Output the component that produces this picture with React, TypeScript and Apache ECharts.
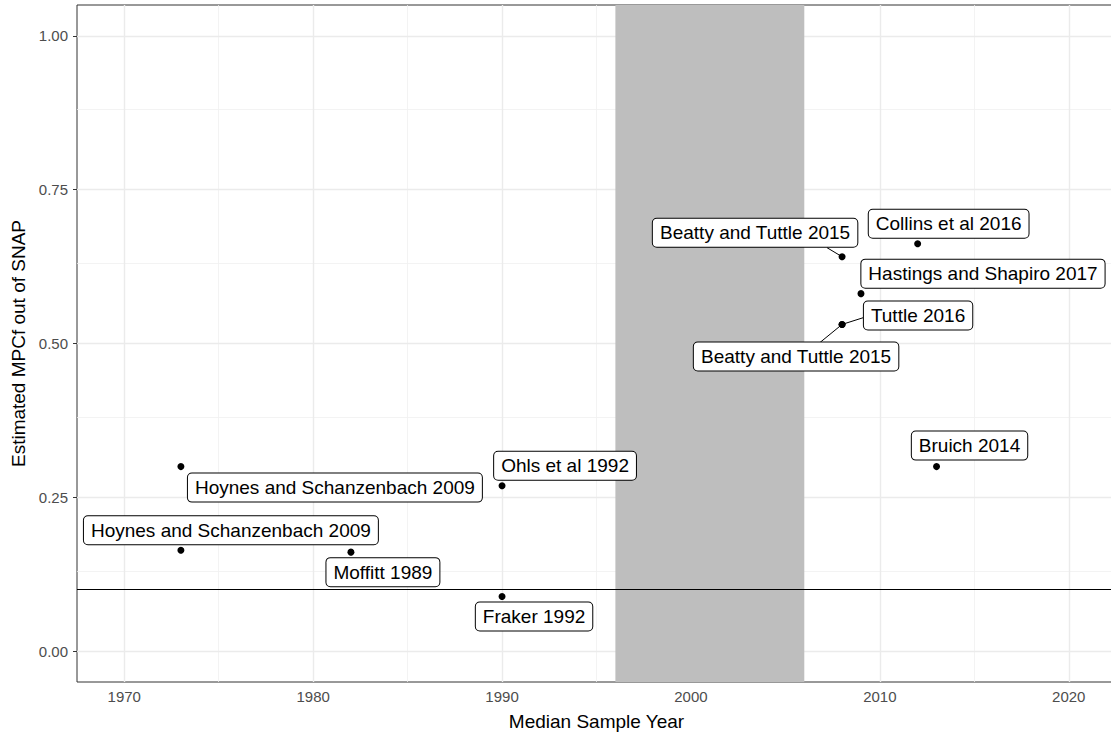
import React, { useEffect, useRef } from "react";
import * as echarts from "echarts";

const studies = [
  "Hoynes and Schanzenbach 2009",
  "Hoynes and Schanzenbach 2009",
  "Moffitt 1989",
  "Ohls et al 1992",
  "Fraker 1992",
  "Beatty and Tuttle 2015",
  "Collins et al 2016",
  "Hastings and Shapiro 2017",
  "Tuttle 2016",
  "Beatty and Tuttle 2015",
  "Bruich 2014",
];
const sampleYears = [1973, 1973, 1982, 1990, 1990, 2008, 2012, 2009, 2008, 2008, 2013];
const mpcf = [0.3, 0.164, 0.161, 0.269, 0.089, 0.641, 0.662, 0.581, 0.531, 0.531, 0.3];

const yTicks = [0, 0.25, 0.5, 0.75, 1.0];
const yMinor = [0.125, 0.375, 0.625, 0.875];
const xTicks = [1970, 1980, 1990, 2000, 2010, 2020];
const xMinor = [1975, 1985, 1995, 2005, 2015];
const shadeStart = 1996;
const shadeEnd = 2006;
const refLine = 0.1;

// label placement (pixel offsets of label centre from its point, ggrepel-like)
const labelOffsets: [number, number][] = [
  [154, 21],
  [50, -20],
  [32, 20],
  [63, -20],
  [32, 20],
  [-87, -24],
  [31, -20],
  [122, -20],
  [76, -9],
  [-46, 32],
  [33, -21],
];
// connector segments (pixel end offset from point), null = no connector
const connectors: ([number, number] | null)[] = [
  null, null, null, null, null,
  [-15, -9],
  null, null,
  [22, -7],
  [-22, 18],
  null,
];

const FONT = "'Liberation Sans', Arial, Helvetica, sans-serif";

export default function App() {
  const ref = useRef<HTMLDivElement>(null);
  useEffect(() => {
    if (!ref.current) return;
    const chart = echarts.init(ref.current, null, { renderer: "svg" });
    const majorStyle = { color: "#EBEBEB", width: 1.4, type: "solid" as const };
    const minorStyle = { color: "#F0F0F0", width: 0.8, type: "solid" as const };
    const points = studies.map((name, i) => ({
      name,
      value: [sampleYears[i], mpcf[i]],
      label: { offset: labelOffsets[i] },
    }));
    const connectorData = studies
      .map((_, i) => i)
      .filter((i) => connectors[i])
      .map((i) => [sampleYears[i], mpcf[i], connectors[i]![0], connectors[i]![1]]);
    chart.setOption({
      animation: false,
      textStyle: { fontFamily: FONT },
      grid: {
        left: 77,
        right: 0,
        top: 5,
        bottom: 56,
        show: true,
        borderColor: "#333333",
        borderWidth: 1,
        backgroundColor: "transparent",
      },
      xAxis: {
        type: "value",
        min: 1967.5,
        max: 2022.5,
        name: "Median Sample Year",
        nameLocation: "middle",
        nameGap: 30,
        nameTextStyle: { fontSize: 19, color: "#000", fontFamily: FONT },
        axisLine: { show: false },
        axisTick: { show: true, customValues: xTicks, length: 4, lineStyle: { color: "#333" } },
        axisLabel: {
          customValues: xTicks,
          color: "#4D4D4D",
          fontSize: 15,
          margin: 7,
          fontFamily: FONT,
          formatter: (v: number) => String(v),
        },
        splitLine: { show: false },
      },
      yAxis: {
        type: "value",
        min: -0.05,
        max: 1.05,
        name: "Estimated MPCf out of SNAP",
        nameLocation: "middle",
        nameGap: 46,
        nameTextStyle: { fontSize: 19, color: "#000", fontFamily: FONT },
        axisLine: { show: false },
        axisTick: { show: true, customValues: yTicks, length: 4, lineStyle: { color: "#333" } },
        axisLabel: {
          customValues: yTicks,
          color: "#4D4D4D",
          fontSize: 15,
          margin: 9,
          fontFamily: FONT,
          formatter: (v: number) => v.toFixed(2),
        },
        splitLine: { show: false },
      },
      series: [
        {
          type: "line",
          data: [],
          silent: true,
          markLine: {
            silent: true,
            z: 1,
            symbol: "none",
            label: { show: false },
            data: [
              ...yMinor.map((v) => ({ yAxis: v, lineStyle: minorStyle })),
              ...xMinor.map((v) => ({ xAxis: v, lineStyle: minorStyle })),
              ...yTicks.map((v) => ({ yAxis: v, lineStyle: majorStyle })),
              ...xTicks.map((v) => ({ xAxis: v, lineStyle: majorStyle })),
            ],
          },
        },
        {
          type: "line",
          data: [],
          silent: true,
          markArea: {
            silent: true,
            z: 3,
            itemStyle: { color: "#BEBEBE", opacity: 1 },
            data: [[{ xAxis: shadeStart }, { xAxis: shadeEnd }]],
          },
        },
        {
          type: "line",
          data: [],
          silent: true,
          markLine: {
            silent: true,
            z: 4,
            symbol: "none",
            label: { show: false },
            lineStyle: { color: "#000", width: 1.2, type: "solid" },
            data: [{ yAxis: refLine }],
          },
        },
        {
          type: "custom",
          z: 5,
          silent: true,
          data: connectorData,
          renderItem: (_params: any, api: any) => {
            const p = api.coord([api.value(0), api.value(1)]);
            return {
              type: "line",
              shape: { x1: p[0], y1: p[1], x2: p[0] + api.value(2), y2: p[1] + api.value(3) },
              style: { stroke: "#000", lineWidth: 1 },
            };
          },
        },
        {
          type: "scatter",
          z: 6,
          symbol: "circle",
          symbolSize: 7,
          itemStyle: { color: "#000", opacity: 1 },
          data: points,
          label: {
            show: true,
            position: "inside",
            formatter: (p: any) => p.name,
            color: "#000",
            fontSize: 19,
            fontFamily: FONT,
            lineHeight: 21,
            backgroundColor: "#fff",
            borderColor: "#000",
            borderWidth: 1,
            borderRadius: 4,
            padding: [4, 7, 3, 7],
          },
        },
      ],
    });
    return () => chart.dispose();
  }, []);
  return (
    <div
      ref={ref}
      style={{ position: "fixed", left: 0, top: 0, width: 1116, height: 738, background: "#fff" }}
    />
  );
}
